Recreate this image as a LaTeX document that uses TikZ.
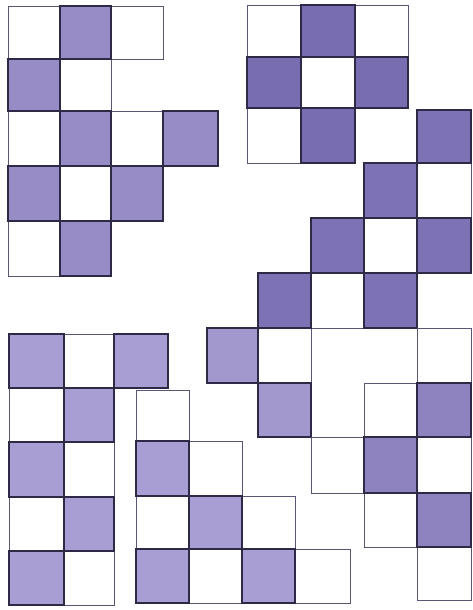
\documentclass[tikz,border=0pt]{standalone}
\usepackage{tikz}
\definecolor{cA}{HTML}{978CC6}
\definecolor{cB}{HTML}{776DB0}
\definecolor{cC}{HTML}{7C72B4}
\definecolor{cL}{HTML}{A398CE}
\definecolor{cE}{HTML}{8E83BE}
\definecolor{cF}{HTML}{A99ED3}
\definecolor{edgeD}{HTML}{2E2A45}
\definecolor{edgeW}{HTML}{5A5570}
\tikzset{
  wcell/.style={draw=edgeW, line width=0.8pt, fill=white},
  dcell/.style={draw=edgeD, line width=1.2pt, fill=#1},
}
\begin{document}
\begin{tikzpicture}[x=1pt,y=-1pt,line join=miter]
\useasboundingbox (0,0) rectangle (473,610);
\fill[white] (0,0) rectangle (473,610);
% ---------- piece A (top left) ----------
\foreach \a/\b/\c/\d in {8/6/60/59, 111/6/163/59, 60/59/111/111, 8/111/60/166, 111/111/163/166, 60/166/111/221, 8/221/60/276}
  \draw[wcell] (\a,\b) rectangle (\c,\d);
\foreach \a/\b/\c/\d in {60/6/111/59, 8/59/60/111, 60/111/111/166, 163/111/218/166, 8/166/60/221, 111/166/163/221, 60/221/111/276}
  \draw[dcell=cA] (\a,\b) rectangle (\c,\d);
% ---------- piece B (top right) ----------
\foreach \a/\b/\c/\d in {247/5/301/57, 355/5/408/57, 301/57/355/108, 247/108/301/163}
  \draw[wcell] (\a,\b) rectangle (\c,\d);
\foreach \a/\b/\c/\d in {301/5/355/57, 247/57/301/108, 355/57/408/108, 301/108/355/163}
  \draw[dcell=cB] (\a,\b) rectangle (\c,\d);
% ---------- piece C (staircase) ----------
\foreach \a/\b/\c/\d in {417/163/471/218, 364/218/417/273, 311/273/364/328, 258/328/311/383}
  \draw[wcell] (\a,\b) rectangle (\c,\d);
\foreach \a/\b/\c/\d in {417/110/471/163, 364/163/417/218, 311/218/364/273, 417/218/471/273, 258/273/311/328, 364/273/417/328}
  \draw[dcell=cC] (\a,\b) rectangle (\c,\d);
\foreach \a/\b/\c/\d in {207/328/258/383, 258/383/311/437}
  \draw[dcell=cL] (\a,\b) rectangle (\c,\d);
% ---------- pieces D and E (lower right) ----------
\foreach \a/\b/\c/\d in {417/328/471/383, 364/383/417/437, 311/437/364/493, 417/437/471/493, 364/493/417/547, 417/547/471/600}
  \draw[wcell] (\a,\b) rectangle (\c,\d);
\foreach \a/\b/\c/\d in {417/383/471/437, 364/437/417/493, 417/493/471/547}
  \draw[dcell=cE] (\a,\b) rectangle (\c,\d);
% ---------- piece F (bottom left) ----------
\foreach \a/\b/\c/\d in {64/334/114/388, 9/388/64/442, 64/442/114/497, 9/497/64/551, 64/551/114/605}
  \draw[wcell] (\a,\b) rectangle (\c,\d);
\foreach \a/\b/\c/\d in {9/334/64/388, 114/334/168/388, 64/388/114/442, 9/442/64/497, 64/497/114/551, 9/551/64/605}
  \draw[dcell=cF] (\a,\b) rectangle (\c,\d);
% ---------- piece G (bottom staircase) ----------
\foreach \a/\b/\c/\d in {136/390/189/441, 189/441/242/496, 136/496/189/549, 242/496/295/549, 189/549/242/603, 295/549/350/603}
  \draw[wcell] (\a,\b) rectangle (\c,\d);
\foreach \a/\b/\c/\d in {136/441/189/496, 189/496/242/549, 136/549/189/603, 242/549/295/603}
  \draw[dcell=cF] (\a,\b) rectangle (\c,\d);
\end{tikzpicture}
\end{document}
